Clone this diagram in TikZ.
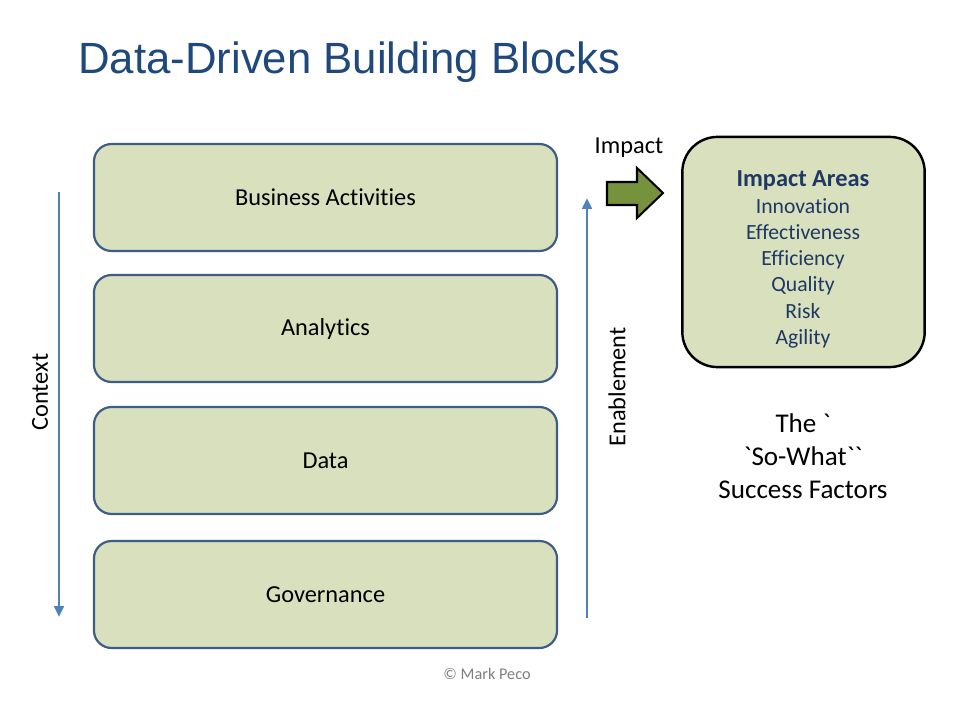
\documentclass[tikz,border=0pt]{standalone}
\usepackage{fontspec}
\setmainfont{Carlito}[Ligatures={NoCommon}]
\newfontfamily\rawfont{Carlito}[Ligatures={TeXOff,NoCommon}]
\newfontfamily\titlefont{Liberation Sans}
\usetikzlibrary{arrows.meta}
\definecolor{boxfill}{RGB}{216,224,189}
\definecolor{boxline}{RGB}{61,92,135}
\definecolor{titleblue}{RGB}{31,73,125}
\definecolor{impblue}{RGB}{31,56,100}
\definecolor{arrowblue}{RGB}{79,129,189}
\definecolor{olive}{RGB}{118,146,60}
\begin{document}
\begin{tikzpicture}[x=0.7385pt,y=-0.7385pt,
  block/.style={draw=boxline,line width=1.6pt,fill=boxfill,rounded corners=13pt,
    minimum width=342pt,minimum height=79pt,inner sep=0pt,font=\fontsize{18}{21}\selectfont},
  flowarrow/.style={draw=arrowblue,line width=1.9pt,-{Triangle[length=8pt,width=7pt]}},
  sidelabel/.style={rotate=90,font=\fontsize{18}{21}\selectfont}]
\useasboundingbox (0,0) rectangle (975,703);
\fill[white] (0,0) rectangle (975,703);
\node[anchor=west,text=titleblue,font=\titlefont\fontsize{32.3}{38}\selectfont,inner sep=0pt] (title) at (78,62) {Data-Driven Building Blocks};
\node[block] (ba) at (325.5,197.5) {Business Activities};
\node[block] (an) at (325.5,328.5) {Analytics};
\node[block] (da) at (325.5,460.5) {Data};
\node[block] (go) at (325.5,594.5) {Governance};
\coordinate (ctop) at (59,192);
\coordinate (cbot) at (59,617);
\draw[flowarrow] (ctop) -- (cbot);
\node[sidelabel] (ctx) at (40,392) {Context};
\coordinate (ebot) at (587,618);
\coordinate (etop) at (587,198);
\draw[flowarrow] (ebot) -- (etop);
\node[sidelabel] (ena) at (617,387) {Enablement};
\node[font=\fontsize{18}{21}\selectfont] (imp) at (629,148) {Impact};
\draw[line width=1.5pt,fill=olive,line join=miter] (607,182) -- (637,182) -- (637,168) -- (663,193) -- (637,218) -- (637,205) -- (607,205) -- cycle;
\node[draw=black,line width=1.8pt,fill=boxfill,rounded corners=26pt,minimum width=179pt,minimum height=170pt,inner sep=0pt] (areas) at (803.5,252) {};
\node[text=impblue,align=center,font=\fontsize{16}{19.4}\selectfont] (areatext) at (803,259.5) {{\fontsize{18}{19.4}\selectfont\bfseries Impact Areas}\\Innovation\\Effectiveness\\Efficiency\\Quality\\Risk\\Agility};
\node[align=center,font=\rawfont\fontsize{20}{24.4}\selectfont] (sowhat) at (803,456) {The `\\`So-What``\\Success Factors};
\node[text=black!50,font=\fontsize{12}{14}\selectfont] (copy) at (487,674) {© Mark Peco};
\end{tikzpicture}
\end{document}
